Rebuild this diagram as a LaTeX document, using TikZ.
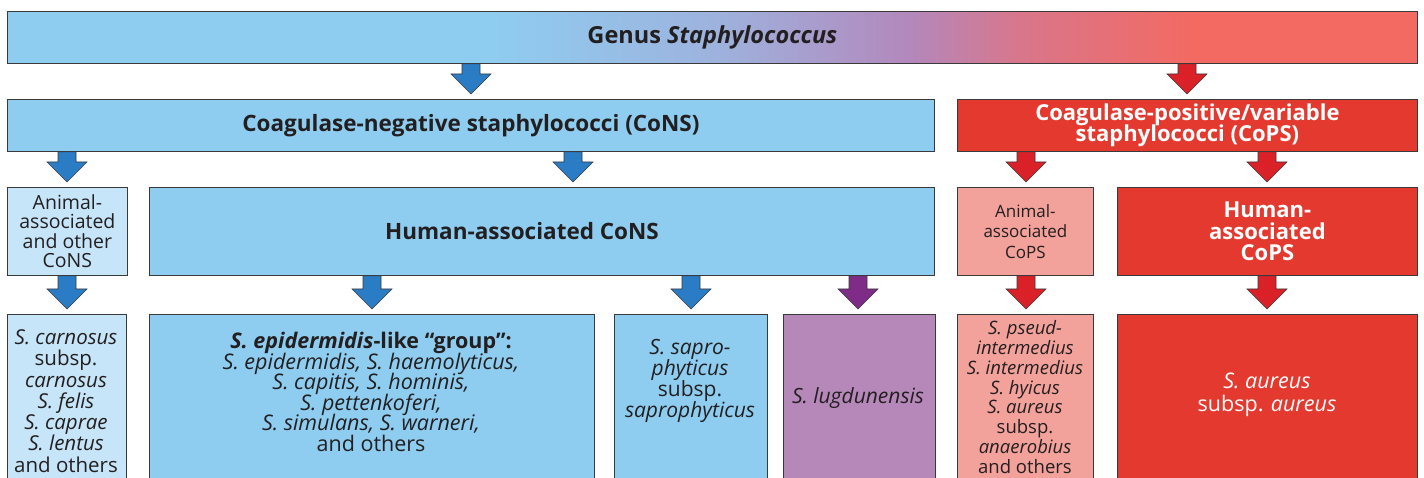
\documentclass[tikz,border=0pt]{standalone}
\usepackage{fontspec}
\setmainfont{Open Sans}
\usetikzlibrary{calc}

\definecolor{skyB}{HTML}{8ECDF0}
\definecolor{paleB}{HTML}{C6E5F8}
\definecolor{lavB}{HTML}{9DB3DE}
\definecolor{purpG}{HTML}{B388BC}
\definecolor{roseG}{HTML}{D9768A}
\definecolor{salmG}{HTML}{F36A63}
\definecolor{redC}{HTML}{E4392F}
\definecolor{pinkC}{HTML}{F2A19B}
\definecolor{lilac}{HTML}{B688BA}
\definecolor{blueA}{HTML}{2A7CC5}
\definecolor{redA}{HTML}{DA2128}
\definecolor{purpA}{HTML}{7E2C88}
\definecolor{edge}{HTML}{3A3A3A}
\definecolor{ink}{HTML}{231F20}

\pgfdeclarehorizontalshading{genusshade}{100bp}{color(0bp)=(skyB); color(42bp)=(skyB); color(50bp)=(lavB); color(57bp)=(purpG); color(61bp)=(roseG); color(67bp)=(salmG); color(100bp)=(salmG)}

\tikzset{
  box/.style={rectangle, draw=edge, line width=0.8pt, inner sep=0pt, anchor=north west,
    align=center, text=ink, font=\fontsize{17}{21}\selectfont},
  txt/.style={align=center, text=ink, inner sep=0pt, font=\fontsize{20.5}{21.3}\selectfont},
  bar/.style={fill=#1, draw=edge, line width=0.6pt, to path={
    let \p1=(\tikztostart), \p2=(\tikztotarget) in
    (\x1-9pt,\y1) -- (\x1-9pt,\y2+25pt) -- (\x1-20pt,\y2+25pt) -- (\x1,\y2+5pt)
    -- (\x1+20pt,\y2+25pt) -- (\x1+9pt,\y2+25pt) -- (\x1+9pt,\y1) -- cycle}},
}

\begin{document}
\lineskiplimit=-50pt
\begin{tikzpicture}[x=1pt,y=-1pt]
\path[use as bounding box] (0,0) rectangle (1424,478);

% arrow columns
\coordinate (c1) at (471,0);  \coordinate (c2) at (1187,0);
\coordinate (c3) at (67,0);   \coordinate (c4) at (573,0);
\coordinate (c5) at (1026,0); \coordinate (c6) at (1267,0);
\coordinate (c8) at (372,0);  \coordinate (c9) at (691,0);
\coordinate (c10) at (858,0);

% row 1
\node[box, shade, shading=genusshade, minimum width=1410pt, minimum height=52pt] (genus) at (7,11)
  {\fontsize{23.5}{24}\selectfont\textbf{Genus \textit{Staphylococcus}}};

% row 2
\node[box, fill=skyB, minimum width=927pt, minimum height=52pt,
  font=\fontsize{22.5}{24}\selectfont\bfseries] (cons) at (7,99) {Coagulase-negative staphylococci (CoNS)};
\node[box, fill=redC, text=white, minimum width=460pt, minimum height=52pt,
  font=\fontsize{22}{21}\selectfont\bfseries] (cops) at (957,99)
  {Coagulase-positive/variable\\staphylococci (CoPS)};

% row 3
\node[box, fill=paleB, minimum width=120pt, minimum height=88pt, font=\fontsize{19.5}{19.5}\selectfont] (anim) at (7,187)
  {Animal-\\associated\\and other\\CoNS};
\node[box, fill=skyB, minimum width=785pt, minimum height=88pt] (hum) at (149,187) {};
\node[txt, font=\fontsize{22.5}{24}\selectfont\bfseries] (humT) at (522,231) {Human-associated CoNS};
\node[box, fill=pinkC, minimum width=136pt, minimum height=88pt, font=\fontsize{17}{20.5}\selectfont] (animP) at (957,187)
  {Animal-\\associated\\CoPS};
\node[box, fill=redC, text=white, minimum width=300pt, minimum height=88pt,
  font=\fontsize{22}{21.5}\selectfont\bfseries] (humP) at (1117,187)
  {Human-\\associated\\CoPS};

% row 4
\node[box, fill=paleB, minimum width=119pt, minimum height=172pt] (carn) at (7,314) {};
\node[box, fill=skyB, minimum width=445pt, minimum height=172pt] (epid) at (149,314) {};
\node[box, fill=skyB, minimum width=153pt, minimum height=172pt] (sapr) at (614,314) {};
\node[box, fill=lilac, minimum width=152pt, minimum height=172pt] (lugd) at (783,314) {};
\node[box, fill=pinkC, minimum width=136pt, minimum height=172pt] (pseu) at (957,314) {};
\node[box, fill=redC, minimum width=300pt, minimum height=172pt] (aur) at (1117,314) {};

\node[txt] (carnT) at (66,401) {\textit{S. carnosus}\\subsp.\\\textit{carnosus}\\\textit{S. felis}\\
  \textit{S. caprae}\\\textit{S. lentus}\\and others};
\node[txt, font=\fontsize{21.5}{20.6}\selectfont] (epidT) at (371,392) {\textbf{\textit{S. epidermidis}-like \textquotedblleft group\textquotedblright:}\\
  \textit{S. epidermidis, S. haemolyticus,}\\\textit{S. capitis, S. hominis,}\\\textit{S. pettenkoferi,}\\
  \textit{S. simulans, S. warneri,}\\and others};
\node[txt, font=\fontsize{21}{21}\selectfont] (saprT) at (690,381) {\textit{S. sapro-}\\\textit{phyticus}\\subsp.\\\textit{saprophyticus}};
\node[txt, font=\fontsize{21}{21}\selectfont] (lugdT) at (858,398) {\textit{S. lugdunensis}};
\node[txt, font=\fontsize{18.5}{19.8}\selectfont] (pseuT) at (1025,397) {\textit{S. pseud-}\\\textit{intermedius}\\\textit{S. intermedius}\\
  \textit{S. hyicus}\\\textit{S. aureus}\\subsp.\\\textit{anaerobius}\\and others};
\node[txt, text=white, font=\fontsize{21.5}{22.5}\selectfont] (aurT) at (1267,395) {\textit{S. aureus}\\subsp. \textit{aureus}};

% arrows
\draw[bar=blueA] (genus.south -| c1) to (cons.north -| c1);
\draw[bar=redA]  (genus.south -| c2) to (cops.north -| c2);
\draw[bar=blueA] (cons.south -| c3) to (anim.north -| c3);
\draw[bar=blueA] (cons.south -| c4) to (hum.north -| c4);
\draw[bar=redA]  (cops.south -| c5) to (animP.north -| c5);
\draw[bar=redA]  (cops.south -| c6) to (humP.north -| c6);
\draw[bar=blueA] (anim.south -| c3) to (carn.north -| c3);
\draw[bar=blueA] (hum.south -| c8) to (epid.north -| c8);
\draw[bar=blueA] (hum.south -| c9) to (sapr.north -| c9);
\draw[bar=purpA] (hum.south -| c10) to (lugd.north -| c10);
\draw[bar=redA]  (animP.south -| c5) to (pseu.north -| c5);
\draw[bar=redA]  (humP.south -| c6) to (aur.north -| c6);

\end{tikzpicture}
\end{document}
